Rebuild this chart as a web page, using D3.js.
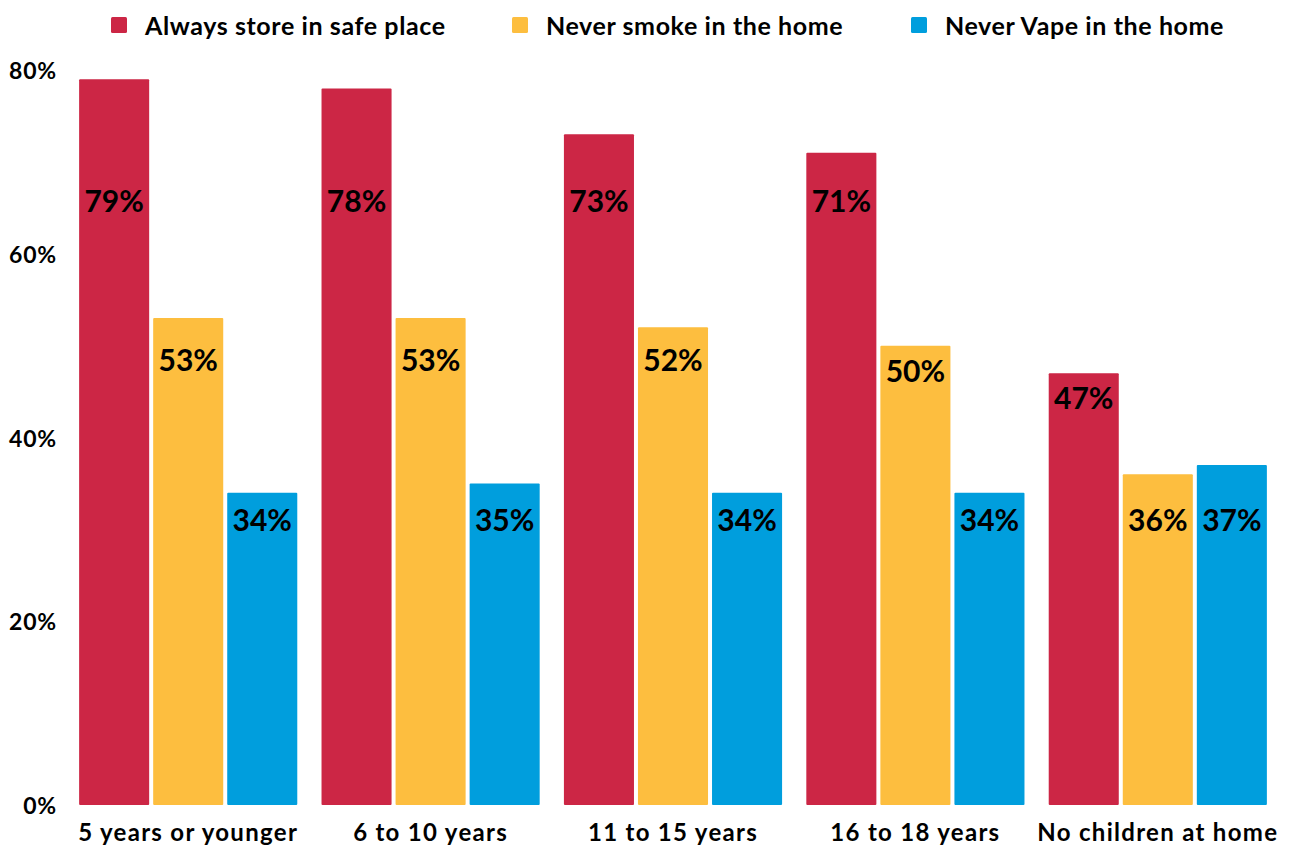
<!DOCTYPE html>
<html>
<head>
<meta charset="utf-8">
<script src="https://cdn.jsdelivr.net/npm/d3@7"></script>
<style>
  html, body { margin: 0; padding: 0; background: #ffffff; }
  svg { display: block; font-family: "Lato", "Open Sans", sans-serif; }
</style>
</head>
<body>
<svg id="chart" width="1292" height="845"></svg>
<script>
// Household safety practices by age of children in the home
const categories = ["5 years or younger", "6 to 10 years", "11 to 15 years", "16 to 18 years", "No children at home"];
const seriesNames = ["Always store in safe place", "Never smoke in the home", "Never Vape in the home"];
const seriesColors = ["#CC2645", "#FDBE3F", "#009EDD"];
const safePlace = [79, 78, 73, 71, 47];
const neverSmoke = [53, 53, 52, 50, 36];
const neverVape = [34, 35, 34, 34, 37];
const yTicks = [0, 20, 40, 60, 80];

const values = [safePlace, neverSmoke, neverVape];
const rows = categories.map((c, i) => ({
  category: c,
  items: seriesNames.map((s, j) => ({ series: s, color: seriesColors[j], value: values[j][i] }))
}));

const svg = d3.select("#chart");

const x0 = d3.scaleBand()
  .domain(categories)
  .range([67, 1279])
  .paddingInner(0.1)
  .paddingOuter(0.05);

const x1 = d3.scaleBand()
  .domain(seriesNames)
  .range([0, x0.bandwidth()])
  .paddingInner(0.054);

const y = d3.scaleLinear().domain([0, 80]).range([805, 70]);

// Value labels sit a little below the bar top, capped at one of three heights
function labelValue(v) {
  const level = v >= 62 ? 65.8 : v >= 42 ? 48.5 : 31.1;
  return Math.min(v - 2.6, level);
}

// Y axis tick labels
svg.append("g")
  .selectAll("text")
  .data(yTicks)
  .join("text")
  .attr("x", 57)
  .attr("y", d => y(d))
  .attr("text-anchor", "end")
  .attr("dominant-baseline", "central")
  .attr("font-size", 23)
  .attr("font-weight", 700)
  .attr("letter-spacing", 0.8)
  .attr("fill", "#000")
  .text(d => d + "%");

// Bars
const groups = svg.append("g")
  .selectAll("g")
  .data(rows)
  .join("g")
  .attr("transform", d => `translate(${x0(d.category)},0)`);

groups.selectAll("rect")
  .data(d => d.items)
  .join("rect")
  .attr("x", d => x1(d.series))
  .attr("y", d => y(d.value))
  .attr("width", x1.bandwidth())
  .attr("height", d => y(0) - y(d.value))
  .attr("rx", 1)
  .attr("fill", d => d.color);

groups.selectAll("text.val")
  .data(d => d.items)
  .join("text")
  .attr("class", "val")
  .attr("x", d => x1(d.series) + x1.bandwidth() / 2)
  .attr("y", d => y(labelValue(d.value)))
  .attr("text-anchor", "middle")
  .attr("dominant-baseline", "central")
  .attr("font-size", 30)
  .attr("font-weight", 700)
  .attr("fill", "#000")
  .text(d => d.value + "%");

// Category labels
svg.append("g")
  .selectAll("text")
  .data(categories)
  .join("text")
  .attr("x", d => x0(d) + x0.bandwidth() / 2)
  .attr("y", 831)
  .attr("text-anchor", "middle")
  .attr("dominant-baseline", "central")
  .attr("font-size", 24)
  .attr("font-weight", 700)
  .attr("letter-spacing", 1.3)
  .attr("fill", "#000")
  .text(d => d);

// Legend
const legendX = [111, 512, 911];
const legend = svg.append("g")
  .selectAll("g")
  .data(seriesNames)
  .join("g")
  .attr("transform", (d, i) => `translate(${legendX[i]},25)`);

legend.append("rect")
  .attr("x", 0)
  .attr("y", -8)
  .attr("width", 16)
  .attr("height", 16)
  .attr("rx", 1.5)
  .attr("fill", (d, i) => seriesColors[i]);

legend.append("text")
  .attr("x", 34)
  .attr("y", 0)
  .attr("dominant-baseline", "central")
  .attr("font-size", 25)
  .attr("font-weight", 700)
  .attr("letter-spacing", 0.6)
  .attr("fill", "#000")
  .text(d => d);
</script>
</body>
</html>
